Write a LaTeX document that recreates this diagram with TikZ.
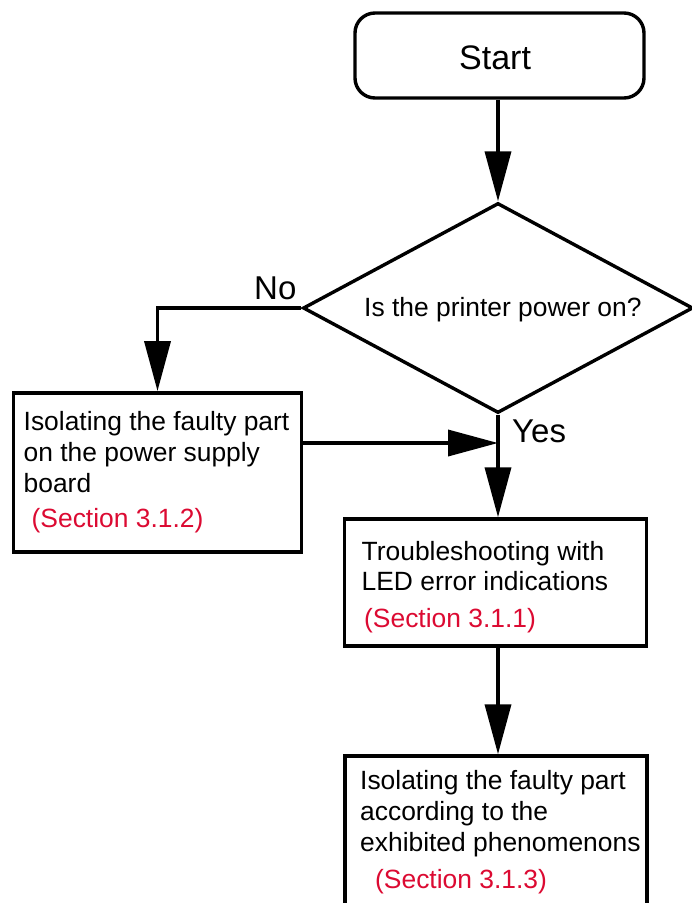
\documentclass[tikz,border=0pt]{standalone}
\usepackage{fontspec}
\setmainfont{Liberation Sans}
\usetikzlibrary{arrows.meta,shapes.geometric}
\definecolor{secred}{RGB}{220,10,50}
\begin{document}
\begin{tikzpicture}[x=1pt,y=-1pt,
  box/.style={draw,line width=3.4pt,rectangle,inner sep=0pt,fill=white},
  conn/.style={line width=3.6pt,-{Triangle[length=50pt,width=26pt]}},
  plain/.style={line width=3.6pt},
  txt/.style={anchor=base west,inner sep=0pt,font=\fontsize{26.4}{31}\selectfont},
  sec/.style={txt,text=secred},
  lbl/.style={anchor=base west,inner sep=0pt,font=\fontsize{33}{38}\selectfont}]
\clip (0,0) rectangle (692,903);
\fill[white] (0,0) rectangle (692,903);

% nodes
\node[box,rounded corners=20pt,minimum width=289pt,minimum height=85pt] (start) at (499.5,55.5) {};
\node[lbl,font=\fontsize{34}{40}\selectfont] (starttxt) at (459,69) {Start};

\node[draw,line width=3.4pt,diamond,minimum width=390pt,minimum height=210pt,inner sep=0pt] (dec) at (498,308) {};
\node[txt] (dectxt) at (364,316) {Is the printer power on?};

\node[box,minimum width=288pt,minimum height=159pt] (box1) at (157.5,472.3) {};
\node[txt] (b1a) at (23.5,430.7) {Isolating the faulty part};
\node[txt] (b1b) at (23.5,461.7) {on the power supply};
\node[txt] (b1c) at (23.5,492) {board};
\node[sec] (b1d) at (31.5,527.5) {(Section 3.1.2)};

\node[box,minimum width=302pt,minimum height=127pt] (box2) at (495.5,582.5) {};
\node[txt] (b2a) at (361.5,560.7) {Troubleshooting with};
\node[txt] (b2b) at (361.5,590.7) {LED error indications};
\node[sec] (b2c) at (364,627) {(Section 3.1.1)};

\node[box,minimum width=302pt,minimum height=200pt] (box3) at (496,856) {};
\node[txt] (b3a) at (360,789) {Isolating the faulty part};
\node[txt] (b3b) at (360,820) {according to the};
\node[txt] (b3c) at (360,851) {exhibited phenomenons};
\node[sec] (b3d) at (375,888.5) {(Section 3.1.3)};

\node[lbl] (no) at (254,299.3) {No};
\node[lbl] (yes) at (512,442.3) {Yes};

% connectors
\draw[conn] (dec.north |- start.south) -- (dec.north);
\draw[conn] (dec.west) -| (box1.north);
\draw[conn] (dec.south) -- (dec.south |- box2.north);
\coordinate (j) at (498,443);
\draw[conn] (j -| box1.east) -- (j);
\draw[conn] (dec.south |- box2.south) -- (dec.south |- box3.north);
\end{tikzpicture}
\end{document}
